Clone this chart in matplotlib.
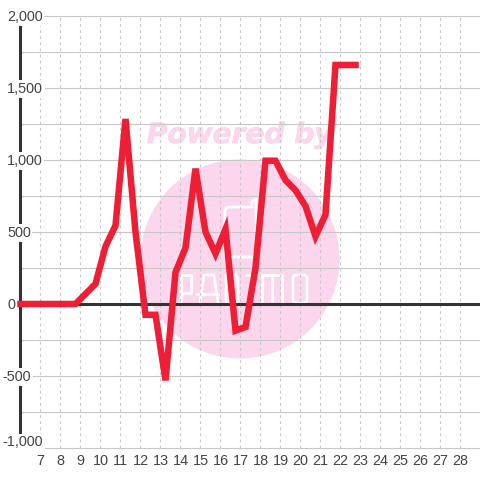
import matplotlib
matplotlib.use('Agg')
import matplotlib.pyplot as plt
import matplotlib.patheffects as pe
from matplotlib.patches import Circle

days = [6, 8.75, 9.25, 9.75, 10.25, 10.75, 11.25, 11.75, 12.25, 12.75, 13.25, 13.75, 14.25,
        14.75, 15.25, 15.75, 16.25, 16.75, 17.25, 17.75, 18.25, 18.75, 19.25, 19.75, 20.25,
        20.75, 21.25, 21.75, 22.25, 22.75]
values = [0, 0, 70, 140, 400, 545, 1285, 500, -75, -75, -530, 220, 390,
          940, 500, 350, 520, -185, -160, 250, 995, 995, 860, 790, 680,
          470, 620, 1660, 1660, 1660]
x_ticks = list(range(7, 29))
y_ticks = [2000, 1500, 1000, 500, 0, -500, -1000]
y_minor = [1750, 1250, 750, 250, -250, -750]

RED = '#EE1F35'
DARK = '#333333'
GRID = '#C8C8C8'
PINK = '#FBD6EC'
TEXT = '#444444'

plt.rcParams['font.family'] = ['Liberation Sans', 'DejaVu Sans']

fig = plt.figure(figsize=(4.8, 4.8), dpi=100, facecolor='white')

# watermark sits under the chart, drawn in pixel coordinates
bg = fig.add_axes([0, 0, 1, 1], zorder=0)
bg.set_xlim(0, 480)
bg.set_ylim(480, 0)
bg.axis('off')
bg.add_patch(Circle((240, 259), 99.5, color=PINK, lw=0))
bg.text(239.5, 135, 'Powered by', family='DejaVu Sans', weight='bold', style='italic',
        fontsize=20.2, color=PINK, ha='center', va='center',
        path_effects=[pe.withStroke(linewidth=0.6, foreground=PINK)])

logo = [
    ([252, 228, 225, 225, 228, 252], [207, 207, 210, 254, 257, 257]),
    ([252, 252, 256, 256], [207, 201, 199, 232]),
    # letters
    ([181, 181, 191, 191, 181], [304, 275, 275, 293, 293]),
    ([200, 204, 214, 218], [303, 275, 275, 303]),
    ([196, 220], [294, 294]),
    ([226, 236, 238, 238, 236, 226, 226], [275, 275, 278, 300, 303, 303, 275]),
    ([246, 251, 251], [275, 275, 303]),
    ([262, 262, 282, 282], [303, 275, 275, 303]),
    ([272, 272], [275, 303]),
    ([295, 305, 307, 307, 305, 295, 293, 293, 295], [275, 275, 277, 301, 303, 303, 301, 277, 275]),
]
for lx, ly in logo:
    bg.plot(lx, ly, color='white', lw=2.0, solid_capstyle='round', solid_joinstyle='round')

ax = fig.add_axes([20.5 / 480, (480 - 448) / 480, 459.5 / 480, 432 / 480], zorder=1)
ax.patch.set_alpha(0)
ax.set_xlim(6, 28.975)
ax.set_ylim(-1000, 2000)

for side in ['top', 'right', 'bottom', 'left']:
    ax.spines[side].set_visible(False)
ax.tick_params(left=False, bottom=False, labelleft=False, labelbottom=False)

for d in x_ticks:
    ax.axvline(d, color=GRID, lw=0.8, dashes=(2.5, 3), zorder=1)
    ax.text(d, -1090, str(d), ha='center', va='center', fontsize=10.4, color=TEXT, clip_on=False)
for v in y_ticks + y_minor:
    ax.axhline(v, color=GRID, lw=0.8, zorder=1, clip_on=False)

ax.axvline(6, color=DARK, lw=2.2, zorder=2, clip_on=False)
ax.axhline(0, color=DARK, lw=2.2, zorder=2)

for v in y_ticks:
    label = f'{v:,}'
    ty = -955 if v == -1000 else v
    tx = 2.6 if v < 0 else 7
    ax.annotate(label, xy=(0, ty), xycoords=('figure pixels', 'data'), xytext=(tx * 0.72, -0.7),
                textcoords='offset points', ha='left', va='center', fontsize=10.4, color=TEXT,
                zorder=3, annotation_clip=False,
                bbox=dict(facecolor='white', edgecolor='none', pad=1.2))

ax.plot(days, values, color=RED, lw=4.7, solid_capstyle='projecting',
        solid_joinstyle='miter', clip_on=False, zorder=4)

fig.savefig('out.png', dpi=100)
